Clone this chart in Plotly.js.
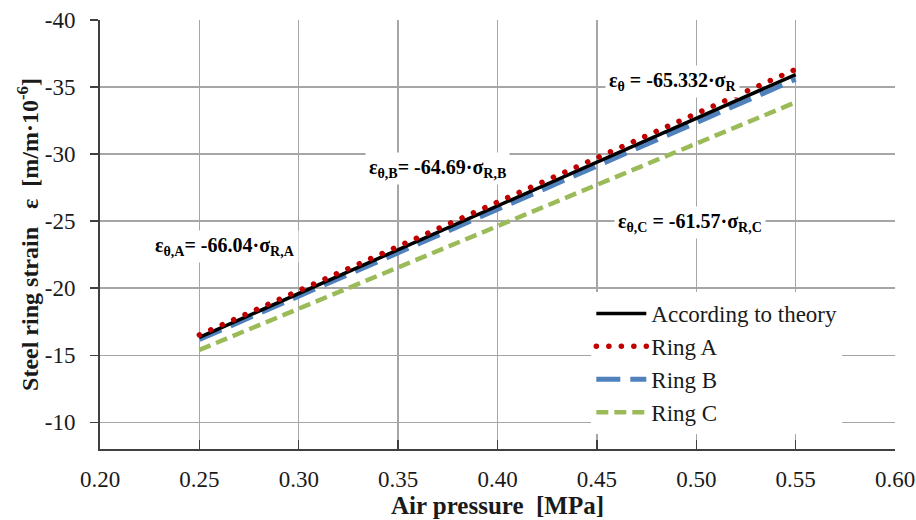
<!DOCTYPE html>
<html>
<head>
<meta charset="utf-8">
<script src="https://cdn.plot.ly/plotly-3.0.1.min.js"></script>
<style>
html, body { margin: 0; padding: 0; background: #fff; }
#chart { width: 916px; height: 520px; }
</style>
</head>
<body>
<div id="chart"></div>
<script>
// Air pressure [MPa] — start and end of each fitted line
const pressure = [0.25, 0.55];
// Steel ring strain [m/m·10^-6]
const theory = [-16.33, -35.93];
const ringA = [-16.51, -36.32];
const ringB = [-16.17, -35.58];
const ringC = [-15.39, -33.86];

const seriesNames = ['According to theory', 'Ring A', 'Ring B', 'Ring C'];
const xTicks = [0.20, 0.25, 0.30, 0.35, 0.40, 0.45, 0.50, 0.55, 0.60];
const yTicks = [-40, -35, -30, -25, -20, -15, -10];

const font = 'Liberation Serif';
const RED = '#c00000';
const NB = '\u00A0';

const traces = [
  {x: pressure, y: ringC, name: seriesNames[3], mode: 'lines', legendrank: 4,
   line: {color: '#9bbb59', width: 4.5, dash: '12px,6px'}},
  {x: pressure, y: ringB, name: seriesNames[2], mode: 'lines', legendrank: 3,
   line: {color: '#4f81bd', width: 5, dash: '24px,10px'}},
  {x: pressure, y: theory, name: seriesNames[0], mode: 'lines', legendrank: 1,
   line: {color: '#000000', width: 3.5}},
  {x: pressure, y: ringA, name: seriesNames[1], mode: 'lines', legendrank: 2,
   line: {color: RED, width: 5.5, dash: '0.1px,12.4px'}}
];

function ann(x, y, text) {
  return {x: x, y: y, xref: 'x', yref: 'y', text: '<b>' + text + '</b>', showarrow: false,
    bgcolor: '#ffffff', borderpad: 3, font: {size: 20, color: '#000'}};
}

const layout = {
  width: 916, height: 520,
  margin: {l: 100, r: 21, t: 20, b: 71},
  paper_bgcolor: '#fff', plot_bgcolor: '#fff',
  font: {family: font, size: 23, color: '#1a1a1a'},
  showlegend: true,
  legend: {x: 0.618, y: 0.366, xanchor: 'left', yanchor: 'top', bgcolor: '#fff',
    itemwidth: 50, tracegroupgap: 0},
  xaxis: {range: [0.2, 0.6], tickvals: xTicks, ticktext: xTicks.map(v => v.toFixed(2)),
    showgrid: true, gridcolor: '#a6a6a6', gridwidth: 1.3,
    showline: true, linecolor: '#404040', linewidth: 2,
    ticks: 'inside', ticklen: 9, tickcolor: '#404040', tickwidth: 1.3,
    zeroline: false, ticklabelstandoff: 8,
    title: {text: '<b>Air pressure' + NB + NB + '[MPa]</b>', font: {size: 25}, standoff: 4}},
  yaxis: {range: [-8, -40], tickvals: yTicks, ticktext: yTicks.map(String),
    showgrid: true, gridcolor: '#a6a6a6', gridwidth: 1.3,
    showline: true, linecolor: '#404040', linewidth: 2,
    ticks: 'outside', ticklen: 8, tickcolor: '#404040', tickwidth: 1.3,
    zeroline: false, ticklabelstandoff: 10,
    title: {text: '<b>Steel ring strain' + NB + NB + NB + 'ε' + NB + NB + '[m/m·10<sup>-6</sup>]</b>', font: {size: 24}}},
  annotations: [
    ann(0.2629, -23.07, 'ε<sub>θ,A</sub>= -66.04·σ<sub>R,A</sub>'),
    ann(0.3696, -28.96, 'ε<sub>θ,B</sub>= -64.69·σ<sub>R,B</sub>'),
    ann(0.4878, -35.38, 'ε<sub>θ</sub> = -65.332·σ<sub>R</sub>'),
    ann(0.4969, -24.93, 'ε<sub>θ,C</sub> = -61.57·σ<sub>R,C</sub>')
  ]
};

Plotly.newPlot('chart', traces, layout, {staticPlot: true}).then(function () {
  document.querySelectorAll('#chart path').forEach(function (p) {
    const s = (p.style.stroke || '').replace(/\s/g, '');
    if (s === 'rgb(192,0,0)') p.style.strokeLinecap = 'round';
  });
});
</script>
</body>
</html>
